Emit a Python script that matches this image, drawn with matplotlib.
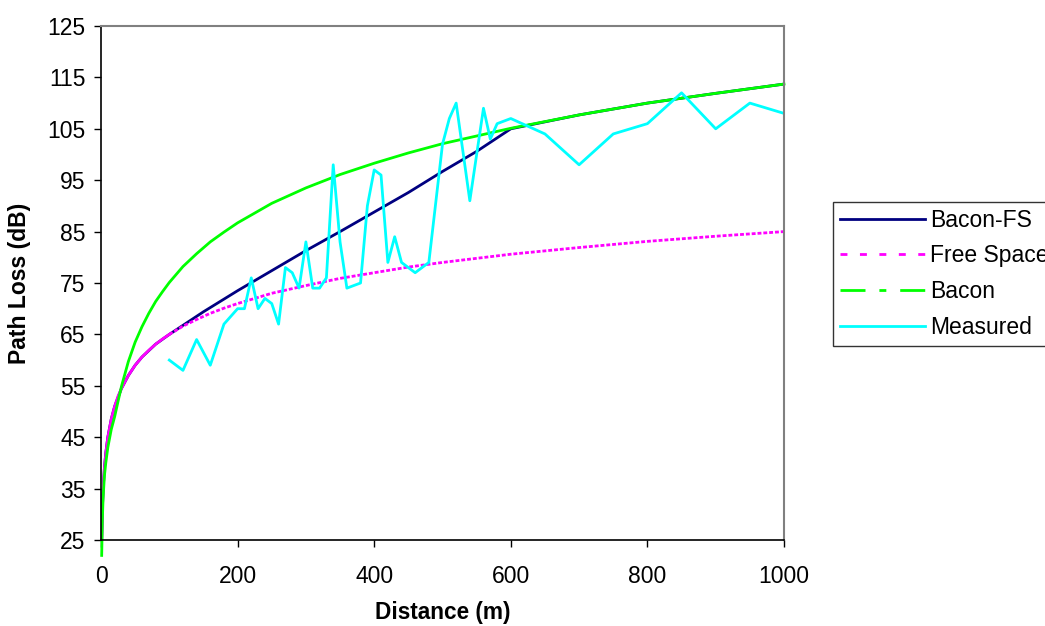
import matplotlib
matplotlib.use('Agg')
import matplotlib.pyplot as plt
from matplotlib.lines import Line2D

plt.rcParams['font.family'] = ['Liberation Sans', 'DejaVu Sans']

# model curves (distance in m, loss in dB)
model_dist = [1, 2, 3, 5, 7, 10, 15, 20, 25, 30, 40, 50, 60, 70, 80, 90, 100,
              120, 140, 160, 180, 200, 250, 300, 350, 400, 450, 500, 600, 700, 800, 900, 1000]
free_space = [25.0, 31.0, 34.5, 39.0, 41.9, 45.0, 48.5, 51.0, 53.0, 54.5, 57.0, 59.0, 60.6, 61.9, 63.1, 64.1, 65.0,
              66.6, 67.9, 69.1, 70.1, 71.0, 73.0, 74.5, 75.9, 77.0, 78.1, 79.0, 80.6, 81.9, 83.1, 84.1, 85.0]
bacon = [22.0, 29.0, 33.0, 37.5, 40.0, 43.0, 46.5, 49.0, 52.0, 54.9, 59.7, 63.5, 66.5, 69.1, 71.4, 73.3, 75.1,
         78.2, 80.7, 83.0, 84.9, 86.7, 90.5, 93.5, 96.1, 98.3, 100.3, 102.1, 105.1, 107.7, 110.0, 111.9, 113.7]

bfs_dist = [1, 2, 3, 5, 7, 10, 15, 20, 30, 40, 50, 60, 80, 100,
            150, 200, 250, 300, 350, 400, 450, 500, 550, 600, 700, 800, 900, 1000]
bacon_fs = [25.0, 31.0, 34.5, 39.0, 41.9, 45.0, 48.5, 51.0, 54.5, 57.0, 59.0, 60.6, 63.1, 65.0,
            69.4, 73.5, 77.4, 81.3, 85.0, 88.8, 92.6, 96.7, 100.6, 105.0, 107.7, 110.0, 111.9, 113.7]

meas_dist = [100, 120, 140, 160, 180, 200, 210, 220, 230, 240, 250, 260, 270, 280, 290, 300,
             310, 320, 330, 340, 350, 360, 380, 390, 400, 410, 420, 430, 440, 460, 480, 500,
             510, 520, 540, 560, 570, 580, 600, 650, 700, 750, 800, 850, 900, 950, 1000]
measured = [60, 58, 64, 59, 67, 70, 70, 76, 70, 72, 71, 67, 78, 77, 74, 83,
            74, 74, 76, 98, 83, 74, 75, 90, 97, 96, 79, 84, 79, 77, 79, 102,
            107, 110, 91, 109, 103, 106, 107, 104, 98, 104, 106, 112, 105, 110, 108]

c_bfs = '#000080'
c_fs = '#FF00FF'
c_bacon = '#00FF00'
c_meas = '#00FFFF'
lw = 2.0

fig = plt.figure(figsize=(10.45, 6.26), dpi=100)
ax = fig.add_axes([101 / 1045, 1 - 540 / 626, 683 / 1045, 514 / 626])

ax.plot(bfs_dist, bacon_fs, color=c_bfs, lw=lw)
# dense part of free space looks solid, the rest dashed
n_solid = model_dist.index(100) + 1
ax.plot(model_dist[:n_solid], free_space[:n_solid], color=c_fs, lw=lw)
ax.plot(model_dist[n_solid - 1:], free_space[n_solid - 1:], color=c_fs, lw=lw,
        dashes=(1.4, 0.7), dash_capstyle='butt')
ax.plot(model_dist, bacon, color=c_bacon, lw=lw, clip_on=False)
ax.plot(meas_dist, measured, color=c_meas, lw=lw)

ax.set_xlim(0, 1000)
ax.set_ylim(25, 125)
ax.set_xticks(range(0, 1001, 200))
ax.set_yticks(range(25, 126, 10))
ax.tick_params(labelsize=16.5, direction='out', length=5, width=1)
ax.tick_params(axis='x', pad=13)
ax.tick_params(axis='y', pad=6)
for side in ['left', 'bottom']:
    ax.spines[side].set_color('black')
    ax.spines[side].set_linewidth(1.2)
for side in ['top', 'right']:
    ax.spines[side].set_color('#808080')
    ax.spines[side].set_linewidth(1.5)

ax.set_xlabel('Distance (m)', fontsize=16.3, fontweight='bold', labelpad=9)
ax.set_ylabel('Path Loss (dB)', fontsize=16.5, fontweight='bold', labelpad=12)

handles = [
    Line2D([], [], color=c_bfs, lw=lw),
    Line2D([], [], color=c_fs, lw=lw, dashes=(2.5, 4.5), dash_capstyle='butt'),
    Line2D([], [], color=c_bacon, lw=lw, dashes=(9, 5, 2.5, 5), dash_capstyle='butt'),
    Line2D([], [], color=c_meas, lw=lw),
]
lgd = fig.legend(handles, ['Bacon-FS', 'Free Space', 'Bacon', 'Measured'],
                 loc='upper left', bbox_to_anchor=(833 / 1045, 1 - 202 / 626),
                 fontsize=16.5, frameon=True, fancybox=False, shadow=False,
                 handlelength=3.7, handletextpad=0.25, labelspacing=0.55,
                 borderpad=0.3, borderaxespad=0)
lgd.get_frame().set_edgecolor('black')
lgd.get_frame().set_linewidth(1.0)

plt.savefig('out.png', dpi=100)
